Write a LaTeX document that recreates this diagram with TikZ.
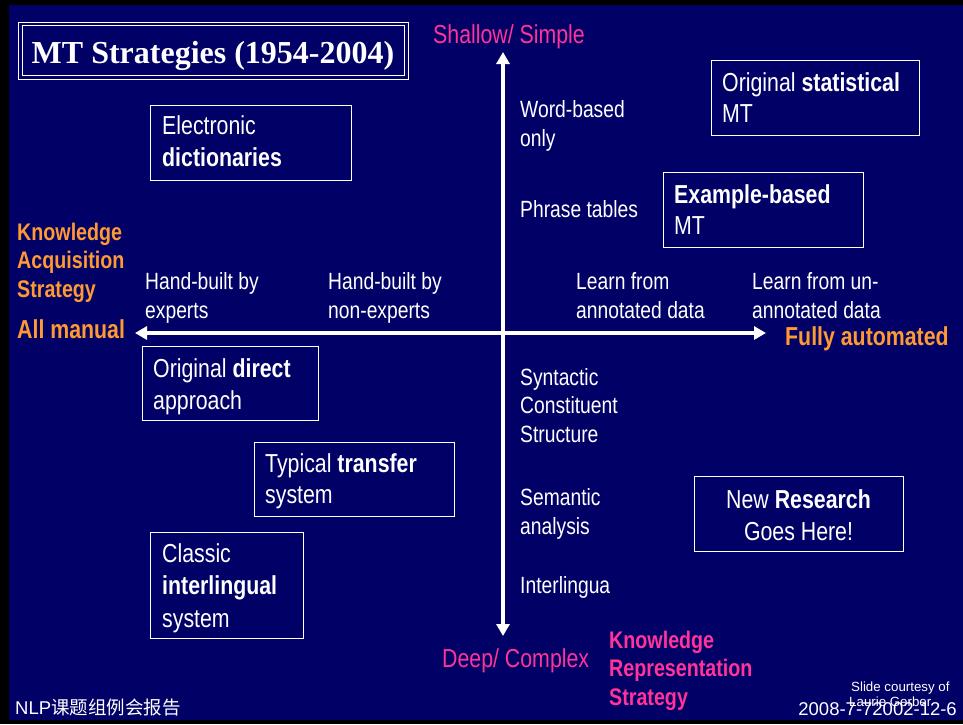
\documentclass[tikz,border=0pt]{standalone}
\usepackage{fontspec}
\setmainfont{Liberation Sans}[FakeStretch=0.82]
\newfontfamily\footfont{Liberation Sans}
\newfontfamily\titlefont{Liberation Serif}
\newfontfamily\cjk{Noto Sans CJK SC}
\usetikzlibrary{arrows.meta}
\definecolor{slidebg}{RGB}{0,0,102}
\definecolor{acqorange}{RGB}{255,153,51}
\definecolor{reppink}{RGB}{255,51,153}
% stacked lines with a fixed baseline distance; the box's baseline is the first line's
\newcommand\txtlines[2]{\vtop{\baselineskip=#1\lineskiplimit=-100pt\lineskip=0pt #2}}
\begin{document}
\begin{tikzpicture}[x=1pt,y=-1pt,
  lbl/.style={text=white, inner sep=0pt, anchor=base west, font=\fontsize{23.5}{29}\selectfont},
  boxtxt/.style={text=white, inner sep=0pt, anchor=base west, font=\fontsize{26}{32}\selectfont},
  acq/.style={text=acqorange, inner sep=0pt, anchor=base west, font=\bfseries\fontsize{24}{29}\selectfont},
  rep/.style={text=reppink, inner sep=0pt, anchor=base west, font=\bfseries\fontsize{24}{29}\selectfont},
  pole/.style={text=reppink, inner sep=0pt, anchor=base west, font=\fontsize{26}{32}\selectfont},
  endlbl/.style={text=acqorange, inner sep=0pt, anchor=base west, font=\bfseries\fontsize{26}{32}\selectfont},
  frame/.style={draw=white, line width=1pt},
  axis/.style={draw=white, line width=4pt, {Triangle[width=13pt,length=12pt]}-{Triangle[width=13pt,length=12pt]}},
  foot/.style={text=white, inner sep=0pt, anchor=base west, font=\footfont\fontsize{18.5}{22}\selectfont},
  credit/.style={text=white, inner sep=0pt, anchor=base west, font=\footfont\fontsize{13.3}{16}\selectfont}
]
\useasboundingbox (0,0) rectangle (963,724);
% slide background
\fill[black] (0,0) rectangle (963,724);
\fill[slidebg] (9,5) rectangle (963,720);

% title with double frame
\draw[white, line width=1pt] (18,22) rectangle (408,79);
\draw[white, line width=1pt] (22,25.5) rectangle (404.5,75.5);
\node[text=white, inner sep=0pt, anchor=base, font=\titlefont\bfseries\fontsize{32}{38}\selectfont] (title) at (213,63) {MT Strategies (1954-2004)};

% axes
\coordinate (vtop) at (503,52);
\coordinate (vbot) at (503,636);
\coordinate (hleft) at (135,333);
\coordinate (hright) at (766,333);
\draw[axis] (vtop) -- (vbot);
\draw[axis] (hleft) -- (hright);

% axis poles
\node[pole] (shallow) at (433,43) {Shallow/ Simple};
\node[pole] (deep) at (442,667) {Deep/ Complex};
\node[rep] (krs) at (609,648) {\txtlines{28.5pt}{\hbox{Knowledge}\hbox{Representation}\hbox{Strategy}}};
\node[acq] (kas) at (17,240) {\txtlines{28.5pt}{\hbox{Knowledge}\hbox{Acquisition}\hbox{Strategy}}};
\node[endlbl] (manual) at (17,338) {All manual};
\node[endlbl] (auto) at (785,345) {Fully automated};

% acquisition scale labels
\node[lbl] (expert) at (145,289) {\txtlines{29pt}{\hbox{Hand-built by}\hbox{experts}}};
\node[lbl] (nonexpert) at (328,289) {\txtlines{29pt}{\hbox{Hand-built by}\hbox{non-experts}}};
\node[lbl] (annot) at (576,289) {\txtlines{29pt}{\hbox{Learn from}\hbox{annotated data}}};
\node[lbl] (unannot) at (752,289) {\txtlines{29pt}{\hbox{Learn from un-}\hbox{annotated data}}};

% representation scale labels
\node[lbl] (word) at (520,117) {\txtlines{29pt}{\hbox{Word-based}\hbox{only}}};
\node[lbl] (phrase) at (520,217) {Phrase tables};
\node[lbl] (syntax) at (520,385) {\txtlines{28.5pt}{\hbox{Syntactic}\hbox{Constituent}\hbox{Structure}}};
\node[lbl] (semantic) at (520,505) {\txtlines{29pt}{\hbox{Semantic}\hbox{analysis}}};
\node[lbl] (inter) at (520,593) {Interlingua};

% strategy boxes
\draw[frame] (150,105) rectangle (351,180);
\node[boxtxt] (dict) at (162,134) {\txtlines{32pt}{\hbox{Electronic}\hbox{\bfseries dictionaries}}};

\draw[frame] (711,60) rectangle (919,135);
\node[boxtxt] (stat) at (722,91) {\txtlines{31pt}{\hbox{Original \bfseries statistical}\hbox{MT}}};

\draw[frame] (663,172) rectangle (863,247);
\node[boxtxt] (ebmt) at (674,203) {\txtlines{31pt}{\hbox{\bfseries Example-based}\hbox{MT}}};

\draw[frame] (142,346) rectangle (318,420);
\node[boxtxt] (direct) at (153,377) {\txtlines{32pt}{\hbox{Original \bfseries direct}\hbox{approach}}};

\draw[frame] (254,442) rectangle (454,516);
\node[boxtxt] (transfer) at (265,472) {\txtlines{31pt}{\hbox{Typical \bfseries transfer}\hbox{system}}};

\draw[frame] (150,532) rectangle (303,638);
\node[boxtxt] (interling) at (162,562) {\txtlines{32.5pt}{\hbox{Classic}\hbox{\bfseries interlingual}\hbox{system}}};

\draw[frame] (694,476) rectangle (903,551);
\node[boxtxt, anchor=base] (newres) at (798.5,508) {\txtlines{32pt}{\hbox to 0pt{\hss New \bfseries Research\hss}\hbox to 0pt{\hss Goes Here!\hss}}};

% footer
\node[foot] (group) at (15,714) {NLP{\cjk 课题组例会报告}};
\node[credit] (courtesy) at (851,691) {Slide courtesy of};
\node[credit] (author) at (849,706) {Laurie Gerber};
\node[foot, anchor=base east] (date) at (957,715) {2008-7-72002-12-6};
\end{tikzpicture}
\end{document}
